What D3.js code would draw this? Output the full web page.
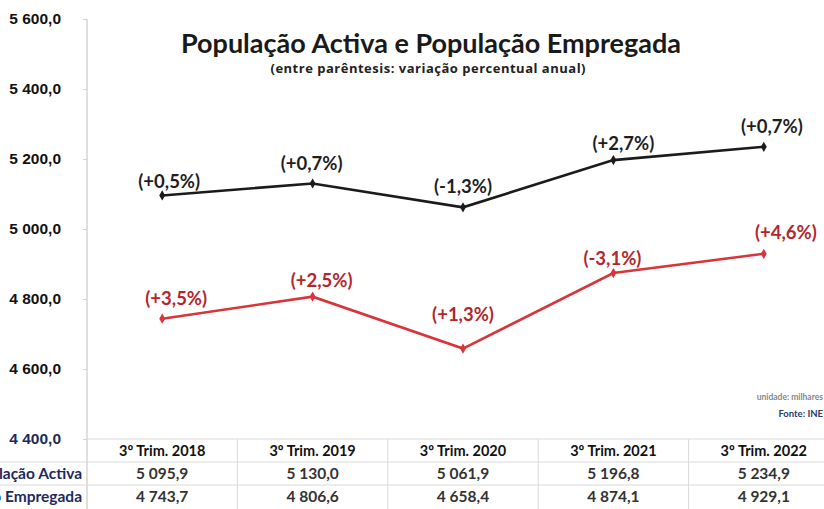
<!DOCTYPE html>
<html>
<head>
<meta charset="utf-8">
<script src="https://cdn.jsdelivr.net/npm/d3@7"></script>
<style>
  html, body { margin: 0; padding: 0; background: #fff; overflow: hidden; }
  svg { display: block; font-family: Lato, "Open Sans", sans-serif; }
</style>
</head>
<body>
<div id="chart"></div>
<script>
(function () {
	'use strict';

	// data
	var categories = ["3º Trim. 2018", "3º Trim. 2019", "3º Trim. 2020", "3º Trim. 2021", "3º Trim. 2022"];
	var activa = [5095.9, 5130.0, 5061.9, 5196.8, 5234.9];
	var empregada = [4743.7, 4806.6, 4658.4, 4874.1, 4929.1];
	var activaVar = ["(+0,5%)", "(+0,7%)", "(-1,3%)", "(+2,7%)", "(+0,7%)"];
	var empregadaVar = ["(+3,5%)", "(+2,5%)", "(+1,3%)", "(-3,1%)", "(+4,6%)"];
	var yTicks = [4400, 4600, 4800, 5000, 5200, 5400, 5600];

	// label nudges (px, relative to each point) - the original labels are hand placed
	var activaNudge = [[7, -14], [-1, -20], [0, -21], [10, -17], [8, -20]];
	var empregadaNudge = [[14, -20], [9, -16], [0, -34], [-1, -15], [22, -21]];

	var width = 824, height = 509;
	var left = 87, bottom = 439, top = 19;
	var band = 150.4;

	var pt = d3.formatLocale({decimal: ",", thousands: " ", grouping: [3], currency: ["", ""]});
	var fmt = pt.format(",.1f");

	var svg = d3.select("#chart").append("svg")
		.attr("width", width)
		.attr("height", height);

	var x = d3.scaleBand()
		.domain(categories)
		.range([left, left + band * categories.length])
		.padding(0);

	var y = d3.scaleLinear()
		.domain([4400, 5600])
		.range([bottom, top]);

	function cx(d, i) { return x(categories[i]) + x.bandwidth() / 2; }

	// y axis
	var yAxis = svg.append("g")
		.attr("transform", "translate(" + left + ",0)")
		.call(d3.axisLeft(y).tickValues(yTicks).tickFormat(fmt).tickSize(4).tickPadding(22));
	yAxis.select(".domain").attr("stroke", "#d4d4d4").attr("stroke-width", 1.5)
		.attr("d", "M0," + top + "V" + height);
	yAxis.selectAll(".tick line").attr("stroke", "#d4d4d4");
	yAxis.selectAll(".tick text")
		.attr("font-size", 15.5)
		.attr("font-weight", "bold")
		.attr("fill", function (d) { return d === 4400 ? "#1c2a5c" : "#111"; });

	// table grid
	var grid = svg.append("g").attr("stroke", "#dadada").attr("stroke-width", 1);
	grid.append("line").attr("x1", left).attr("x2", width).attr("y1", bottom).attr("y2", bottom);
	grid.append("line").attr("x1", 0).attr("x2", width).attr("y1", 462).attr("y2", 462);
	grid.append("line").attr("x1", 0).attr("x2", width).attr("y1", 485).attr("y2", 485);
	grid.selectAll("line.sep").data(categories.slice(1)).enter()
		.append("line")
		.attr("class", "sep")
		.attr("x1", function (d) { return x(d); })
		.attr("x2", function (d) { return x(d); })
		.attr("y1", bottom)
		.attr("y2", height);

	// title
	svg.append("text")
		.attr("x", 431).attr("y", 53)
		.attr("text-anchor", "middle")
		.attr("font-size", 27)
		.attr("font-weight", "bold")
		.attr("fill", "#1a1a1a")
		.text("População Activa e População Empregada");
	svg.append("text")
		.attr("x", 428).attr("y", 73)
		.attr("text-anchor", "middle")
		.attr("font-family", "'Open Sans', sans-serif")
		.attr("font-size", 13)
		.attr("font-weight", "bold")
		.attr("fill", "#222")
		.attr("textLength", 315)
		.attr("lengthAdjust", "spacing")
		.text("(entre parêntesis: variação percentual anual)");

	// lines
	var series = [
		{values: activa, labels: activaVar, nudge: activaNudge, line: "#1b1b1b", text: "#1e1e1e"},
		{values: empregada, labels: empregadaVar, nudge: empregadaNudge, line: "#d8343a", text: "#b3262c"}
	];

	var line = d3.line()
		.x(cx)
		.y(function (d) { return y(d); });

	series.forEach(function (s) {
		svg.append("path")
			.datum(s.values)
			.attr("fill", "none")
			.attr("stroke", s.line)
			.attr("stroke-width", 2.6)
			.attr("d", line);

		svg.selectAll(null).data(s.values).enter()
			.append("path")
			.attr("d", d3.symbol().type(d3.symbolDiamond).size(30))
			.attr("transform", function (d, i) { return "translate(" + cx(d, i) + "," + y(d) + ")"; })
			.attr("fill", s.line);

		svg.selectAll(null).data(s.values).enter()
			.append("text")
			.attr("x", function (d, i) { return cx(d, i) + s.nudge[i][0]; })
			.attr("y", function (d, i) { return y(d) + s.nudge[i][1]; })
			.attr("dy", "0.35em")
			.attr("text-anchor", "middle")
			.attr("font-size", 18.5)
			.attr("font-weight", "bold")
			.attr("fill", s.text)
			.text(function (d, i) { return s.labels[i]; });
	});

	// unit / source
	svg.append("text")
		.attr("x", 823).attr("y", 400)
		.attr("text-anchor", "end")
		.attr("font-size", 8.5)
		.attr("font-weight", "bold")
		.attr("fill", "#888")
		.text("unidade: milhares");
	svg.append("text")
		.attr("x", 823).attr("y", 417)
		.attr("text-anchor", "end")
		.attr("font-size", 9.5)
		.attr("font-weight", "bold")
		.attr("fill", "#2a3a6a")
		.text("Fonte: INE");

	// data table
	var tableRows = [
		{label: null, cells: categories, color: "#111", size: 14.5},
		{label: "População Activa", cells: activa.map(fmt), color: "#333", size: 15.5},
		{label: "População Empregada", cells: empregada.map(fmt), color: "#333", size: 15.5}
	];
	var rowY = [451, 474, 497];

	tableRows.forEach(function (r, ri) {
		if (r.label) {
			svg.append("text")
				.attr("x", 82).attr("y", rowY[ri])
				.attr("dy", "0.35em")
				.attr("text-anchor", "end")
				.attr("font-size", 15.5)
				.attr("font-weight", "bold")
				.attr("fill", "#1c2a5c")
				.text(r.label);
		}
		svg.selectAll(null).data(r.cells).enter()
			.append("text")
			.attr("x", cx)
			.attr("y", rowY[ri])
			.attr("dy", "0.35em")
			.attr("text-anchor", "middle")
			.attr("font-size", r.size)
			.attr("font-weight", "bold")
			.attr("fill", r.color)
			.text(function (d) { return d; });
	});
}());
</script>
</body>
</html>
